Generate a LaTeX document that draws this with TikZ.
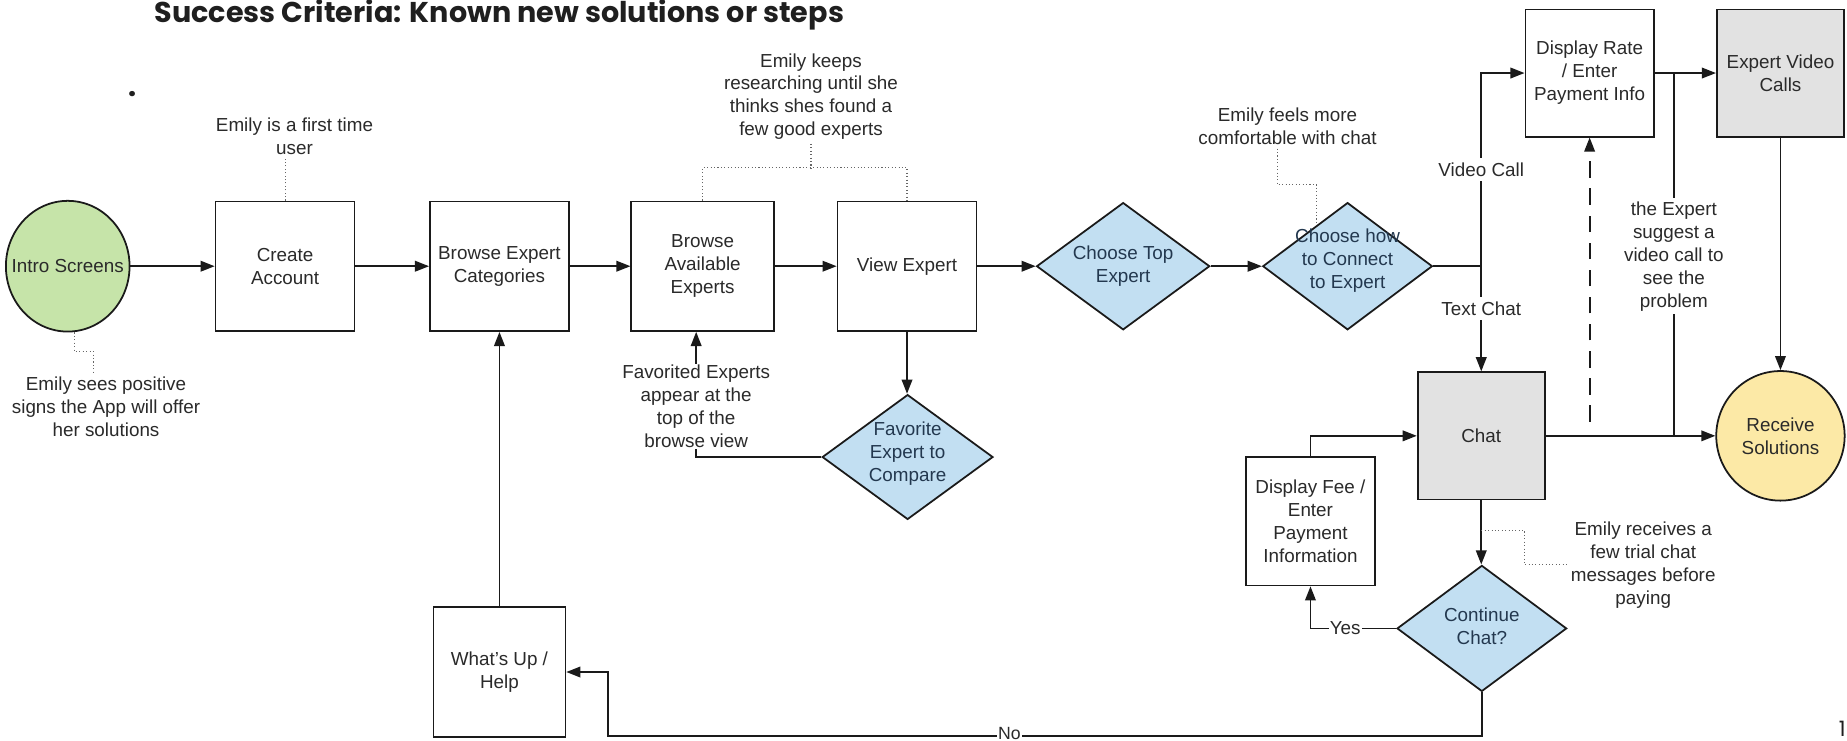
\documentclass[tikz,border=0pt]{standalone}
\usepackage{fontspec}
\setmainfont{Liberation Sans}
\newfontfamily\titlefont{Poppins}
\usetikzlibrary{shapes.geometric,arrows.meta,calc}
\definecolor{bluefill}{HTML}{C2DFF2}
\definecolor{greenfill}{HTML}{C6E4A9}
\definecolor{grayfill}{HTML}{E2E2E2}
\definecolor{yellowfill}{HTML}{FCE9A6}
\definecolor{linecol}{HTML}{1A1A1A}
\definecolor{notecol}{HTML}{666666}
\definecolor{txtcol}{HTML}{2A2A2A}
\definecolor{diamtxt}{HTML}{23384F}
\begin{document}
\begin{tikzpicture}[x=1pt,y=-1pt,
  every node/.style={font=\fontsize{16}{19.5}\selectfont, text=txtcol, align=center},
  box/.style={draw=linecol, line width=1.5pt, rectangle, inner sep=2pt},
  diam/.style={draw=linecol, line width=1.5pt, fill=bluefill, shape=diamond, inner sep=0pt},
  oval/.style={draw=linecol, line width=1.5pt, shape=ellipse, inner sep=0pt},
  plain/.style={draw=linecol, line width=1.5pt},
  conn/.style={draw=linecol, line width=1.5pt, -{Triangle[length=12pt,width=9pt]}},
  note/.style={draw=notecol, line width=0.9pt, dotted},
  lbl/.style={fill=white, inner sep=2pt},
  titlef/.style={font=\titlefont\bfseries\fontsize{24.3}{28}\selectfont, text=black!88, inner sep=0pt}
]
\useasboundingbox (0,0) rectangle (1568,629);
\fill[white] (0,0) rectangle (1568,629);

% title and stray marks
\node[titlef, anchor=base west] (title) at (131,19) {Success Criteria: Known new solutions or steps};
\node[titlef, anchor=base west] (dot) at (108.5,82) {.};
\node[titlef, anchor=base east, font=\titlefont\fontsize{18}{22}\selectfont] (pnum) at (1567,625) {1};

% main nodes
\node[oval, fill=greenfill, minimum width=105pt, minimum height=111pt,
      label={center:Intro Screens}] (intro) at (57.5,226) {};
\node[box, minimum width=118pt, minimum height=110pt] (ca) at (242,226) {Create\\Account};
\node[box, minimum width=118pt, minimum height=110pt] (bec) at (424,226) {Browse Expert\\Categories};
\node[box, minimum width=121pt, minimum height=110pt] (bae) at (596.5,226) {Browse\\Available\\Experts};
\node[box, minimum width=118pt, minimum height=110pt] (ve) at (770,226) {View Expert};
\node[diam, minimum width=147pt, minimum height=108pt,
      label={[text=diamtxt]center:Choose Top\\Expert}] (cte) at (953.5,226) {};
\node[diam, minimum width=144pt, minimum height=108pt,
      label={[text=diamtxt, yshift=5pt]center:Choose how\\to Connect\\to Expert}] (cc) at (1144,226) {};
\node[box, minimum width=109pt, minimum height=108pt] (dr) at (1349.5,62) {Display Rate\\/ Enter\\Payment Info};
\node[box, fill=grayfill, minimum width=108pt, minimum height=108pt] (evc) at (1511.5,62) {Expert Video\\Calls};
\node[box, fill=grayfill, minimum width=108pt, minimum height=108pt] (chat) at (1257.5,370) {Chat};
\node[oval, fill=yellowfill, minimum width=109pt, minimum height=110pt,
      label={center:Receive\\Solutions}] (recv) at (1511.5,370) {};
\node[box, minimum width=110pt, minimum height=109pt] (dfee) at (1112.5,442.5) {Display Fee /\\Enter\\Payment\\Information};
\node[diam, minimum width=144pt, minimum height=107pt,
      label={[text=diamtxt, yshift=2pt]center:Continue\\Chat?}] (cont) at (1258,533.5) {};
\node[box, minimum width=112pt, minimum height=110pt] (help) at (424,570.5) {What's Up /\\Help};
\node[diam, minimum width=145pt, minimum height=106pt,
      label={[text=diamtxt, yshift=3pt]center:Favorite\\Expert to\\Compare}] (fav) at (770.5,388) {};

% annotation texts
\node (et1) at (250,116) {Emily is a first time\\user};
\node (es) at (90,345.5) {Emily sees positive\\signs the App will offer\\her solutions};
\node (ek) at (688.5,82) {Emily keeps\\researching until she\\thinks shes found a\\few good experts};
\node (ef) at (1093,107) {Emily feels more\\comfortable with chat};
\node (er) at (1395,479.5) {Emily receives a\\few trial chat\\messages before\\paying};

% connectors
\draw[conn] (intro.east) -- (ca.west);
\draw[conn] (ca) -- (bec);
\draw[conn] (bec) -- (bae);
\draw[conn] (bae) -- (ve);
\draw[conn] (ve) -- (cte);
\draw[conn] (cte) -- (cc);
\coordinate (split) at (chat.north |- cc.east);
\draw[plain] (cc.east) -- (split);
\draw[conn] (split) |- (dr.west);
\draw[conn] (split) -- (chat.north);
\draw[conn] (dr) -- (evc);
\draw[conn] (evc) -- (recv);
\draw[conn] (chat.east) -- (chat.east -| recv.west);
\coordinate (j1) at (1421,62);
\coordinate (j2) at (j1 |- chat.east);
\draw[plain] (j1) -- (j2);
\coordinate (dstart) at (1349.5,358);
\draw[conn, dash pattern=on 14pt off 9pt] (dstart) -- (dr.south);
\draw[conn] (chat.south) -- (chat.south |- cont.north);
\draw[conn] (cont.west) -| (dfee.south);
\draw[conn] (dfee.north) |- (chat.west);
\coordinate (nocorner) at (516,625);
\draw[conn] (cont.south) |- (nocorner) |- (help.east);
\draw[conn] (help.north) -- (bec.south);
\draw[conn] (ve.south) -- (ve.south |- fav.north);
\draw[conn] (fav.west) -| ([xshift=-5.5pt]bae.south);

% dotted annotation leaders
\draw[note] (ca.north) -- (ca.north |- et1.south);
\draw[note] ([xshift=5.5pt]intro.south) -- ++(0,16) -| ([xshift=-11pt]es.north);
\draw[note] (bae.north) -- ++(0,-28) -| (ve.north);
\coordinate (ekb) at (688.5,143);
\draw[note] (ek.south) -- (ekb);
\coordinate (efend) at (1118,191);
\draw[note] ([xshift=-8.5pt]ef.south) |- ($(efend)+(0,-34)$) -- (efend);
\coordinate (erj) at (1257.5,450);
\draw[note] (erj) -- ++(36.5,0) |- (er.west);

% labels over connectors
\node[fill=white, inner sep=1pt] (fe) at (591,345) {Favorited Experts\\appear at the\\top of the\\browse view};
\node[fill=white, inner sep=3pt] (te) at (1421,217.5) {the Expert\\suggest a\\video call to\\see the\\problem};
\node[lbl, inner sep=4pt] (vc) at (1257.5,144) {Video Call};
\node[lbl, inner sep=4pt] (tc) at (1257.5,262) {Text Chat};
\node[lbl, inner sep=1pt] (yes) at (1142,533) {Yes};
\node[lbl, inner sep=1pt, font=\fontsize{15}{18}\selectfont] (no) at (857,622.5) {No};
\end{tikzpicture}
\end{document}
